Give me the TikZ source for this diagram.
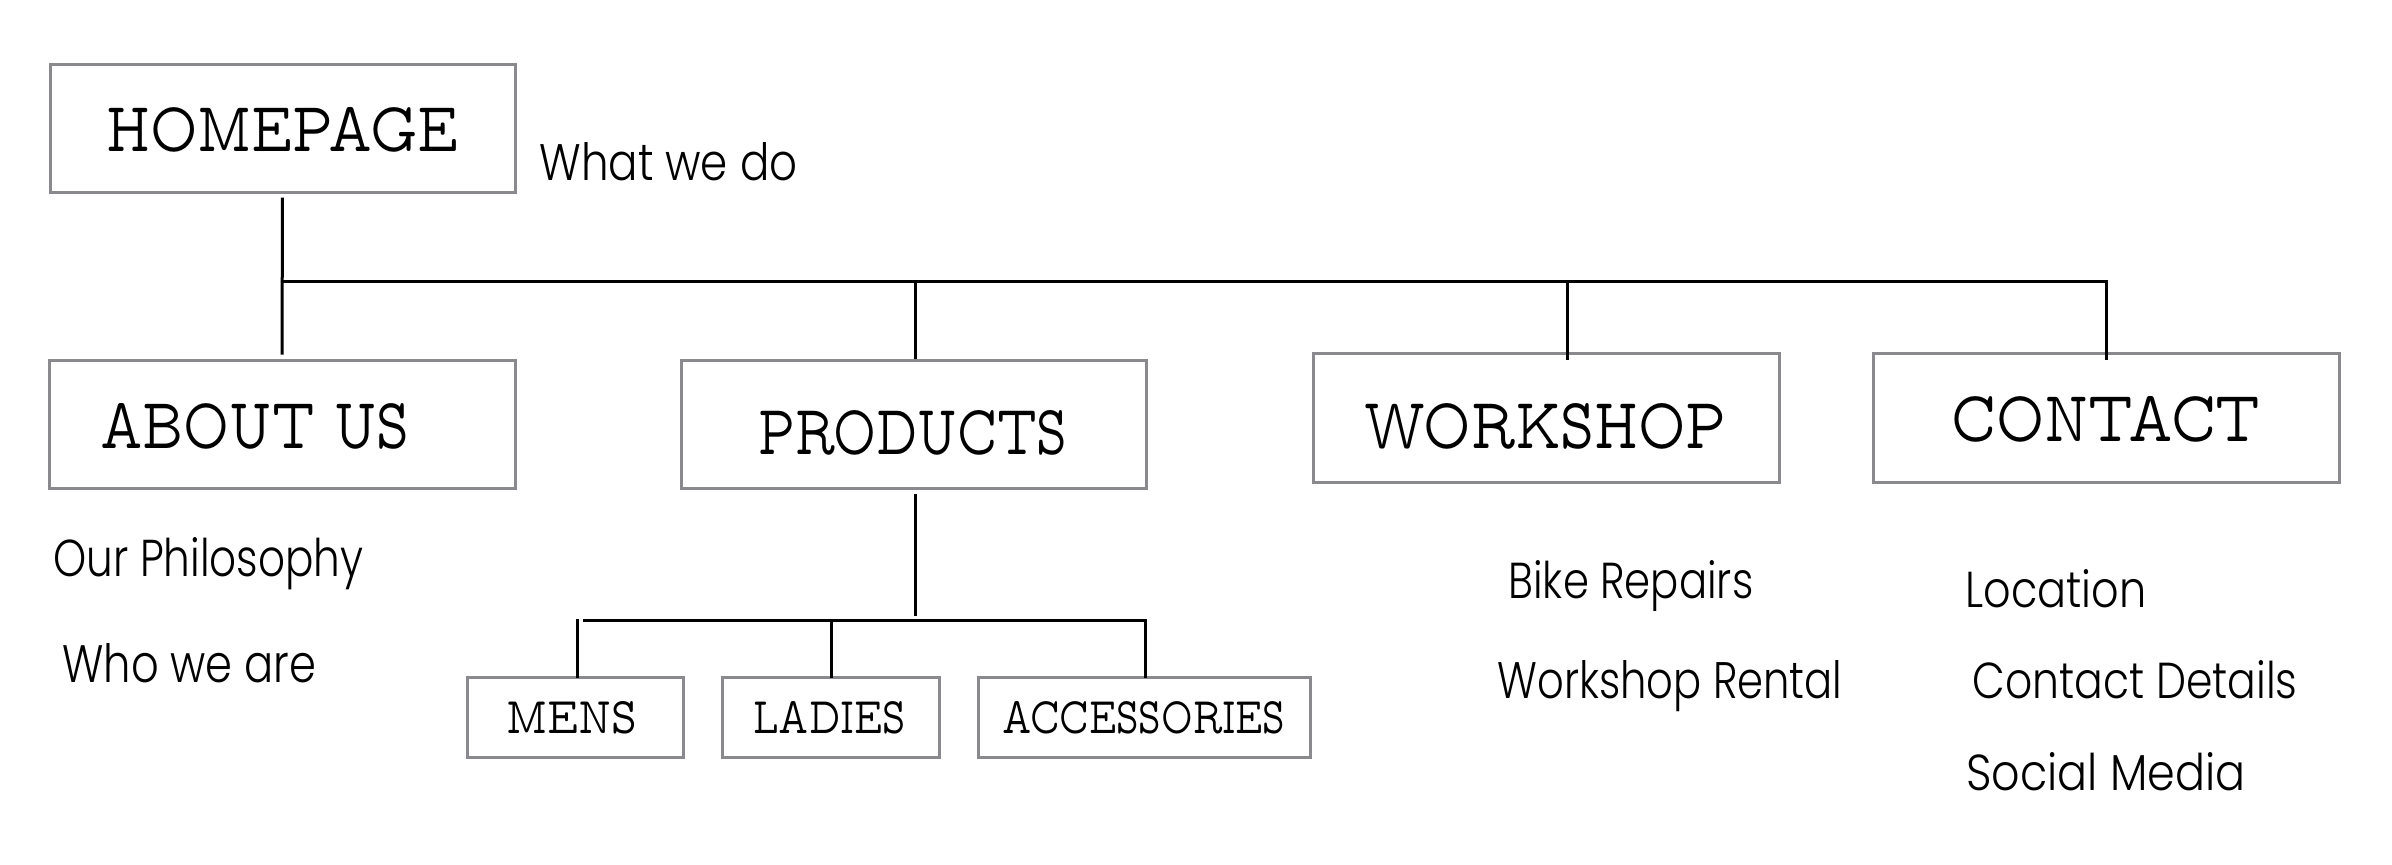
\documentclass[tikz,border=0pt]{standalone}
\usepackage{fontspec}
\usepackage{graphicx}
\newfontfamily\bodyfont{Poppins}[UprightFont=* Light]
\newfontfamily\headfont{Latin Modern Mono Prop}
\newlength\px
\setlength\px{0.5pt}
\newcommand\fitbox[3]{\resizebox{#1\px}{#2\px}{#3}}
\definecolor{boxgray}{HTML}{8A8A8E}
\tikzset{
  box/.style={draw=boxgray, line width=1.5pt, inner sep=0pt, fill=none},
  conn/.style={draw=black, line width=1.5pt},
  head/.style={anchor=base west, inner sep=0pt, font=\headfont},
  body/.style={anchor=base west, inner sep=0pt, font=\bodyfont},
}
\begin{document}
\begin{tikzpicture}[x=0.5pt, y=-0.5pt]
\useasboundingbox (0,0) rectangle (2392,864);
\fill[white] (0,0) rectangle (2392,864);

% boxes
\node[box, minimum width=232.5pt, minimum height=64pt] (home) at (282.5,128) {};
\node[box, minimum width=233pt, minimum height=64pt] (about) at (282,424) {};
\node[box, minimum width=232.5pt, minimum height=64pt] (products) at (913.5,424) {};
\node[box, minimum width=233pt, minimum height=64.5pt] (workshop) at (1546,417.5) {};
\node[box, minimum width=233pt, minimum height=64.5pt] (contact) at (2106,417.5) {};
\node[box, minimum width=108pt, minimum height=40pt] (mens) at (575,717) {};
\node[box, minimum width=108.5pt, minimum height=40pt] (ladies) at (830.5,717) {};
\node[box, minimum width=166pt, minimum height=40pt] (acc) at (1144,717) {};

% headings
\node[head] (thome) at (106,151) {\fitbox{352}{44}{HOMEPAGE}};
\node[head] (tabout) at (100,448) {\fitbox{309}{45}{ABOUT US}};
\node[head] (tproducts) at (758,454) {\fitbox{309}{44}{PRODUCTS}};
\node[head] (tworkshop) at (1364,448) {\fitbox{362}{45}{WORKSHOP}};
\node[head] (tcontact) at (1951,441) {\fitbox{309}{45}{CONTACT}};
\node[head] (tmens) at (506,733) {\fitbox{131}{32}{MENS}};
\node[head] (tladies) at (753,733) {\fitbox{152}{32}{LADIES}};
\node[head] (tacc) at (1002,733) {\fitbox{283}{32}{ACCESSORIES}};

% body texts
\node[body] (what) at (539,180) {\fitbox{258}{38}{What we do}};
\node[body] (philo) at (53,576) {\fitbox{310}{39}{Our Philosophy}};
\node[body] (who) at (62,682) {\fitbox{254}{39}{Who we are}};
\node[body] (bike) at (1508,598) {\fitbox{245}{38}{Bike Repairs}};
\node[body] (rental) at (1497,698) {\fitbox{345}{38}{Workshop Rental}};
\node[body] (loc) at (1965,607) {\fitbox{181}{38}{Location}};
\node[body] (details) at (1972,698) {\fitbox{325}{38}{Contact Details}};
\node[body] (social) at (1966,790) {\fitbox{279}{38}{Social Media}};

% connectors
\coordinate (bus) at (0,281);
\coordinate (sub) at (0,620);
\draw[conn, shorten <=2pt, shorten >=2pt] (home.south) -- (about.north);
\draw[conn] (home.south |- bus) -- ([xshift=0.75pt]contact.north |- bus);
\draw[conn] ([xshift=0.75pt]products.north |- bus) -- ([xshift=0.75pt]products.north);
\draw[conn] ([xshift=10.5pt]workshop.north |- bus) -- ([xshift=10.5pt, yshift=-4pt]workshop.north);
\draw[conn] (contact.north |- bus) -- ([yshift=-4pt]contact.north);
\draw[conn, shorten <=2pt, shorten >=2pt] ([xshift=0.75pt]products.south) -- ([xshift=0.75pt]products.south |- sub);
\draw[conn] ([xshift=4pt]mens.north |- sub) -- ([xshift=1.5pt]acc.north |- sub);
\draw[conn] ([xshift=1pt,yshift=0.5pt]mens.north |- sub) -- ([xshift=1pt,yshift=-1pt]mens.north);
\draw[conn] ([xshift=0.25pt]ladies.north |- sub) -- ([xshift=0.25pt,yshift=-1pt]ladies.north);
\draw[conn] ([xshift=0.5pt]acc.north |- sub) -- ([xshift=0.5pt,yshift=-1pt]acc.north);
\end{tikzpicture}
\end{document}
